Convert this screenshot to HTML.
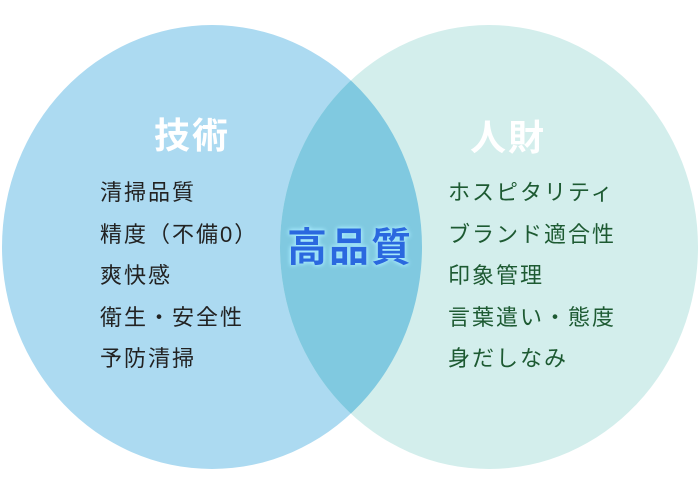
<!DOCTYPE html>
<html><head><meta charset="utf-8"><style>
html,body{margin:0;padding:0;background:#fff;}
svg{display:block;}
text{font-family:"Liberation Sans","Noto Sans CJK JP",sans-serif;}
</style></head><body>
<svg width="700" height="500" viewBox="0 0 700 500" xmlns="http://www.w3.org/2000/svg">
<defs>
<clipPath id="lc"><ellipse cx="212" cy="247" rx="210" ry="222"/></clipPath>
<filter id="glow" x="-20%" y="-40%" width="140%" height="180%">
<feGaussianBlur in="SourceAlpha" stdDeviation="2.5" result="b"/>
<feFlood flood-color="#a8ecff"/>
<feComposite in2="b" operator="in" result="g"/>
<feMerge><feMergeNode in="g"/><feMergeNode in="g"/><feMergeNode in="SourceGraphic"/></feMerge>
</filter>
</defs>
<ellipse cx="212" cy="247" rx="210" ry="222" fill="#acdaf1"/>
<ellipse cx="489" cy="247" rx="209" ry="222" fill="#d3eeec"/>
<ellipse cx="489" cy="247" rx="209" ry="222" fill="#80c9e0" clip-path="url(#lc)"/>
<text x="192" y="148" font-size="36" font-weight="bold" fill="#fff" text-anchor="middle" letter-spacing="2">技術</text>
<text x="508" y="150" font-size="36" font-weight="bold" fill="#fff" text-anchor="middle" letter-spacing="2">人財</text>
<g font-size="22" fill="#222" letter-spacing="2">
<text x="100" y="200">清掃品質</text>
<text x="100" y="242">精度（不備0）</text>
<text x="100" y="283">爽快感</text>
<text x="100" y="325">衛生・安全性</text>
<text x="100" y="366">予防清掃</text>
</g>
<g font-size="22" fill="#1d5a32" letter-spacing="2">
<text x="448" y="200">ホスピタリティ</text>
<text x="448" y="242">ブランド適合性</text>
<text x="448" y="283">印象管理</text>
<text x="448" y="325">言葉遣い・態度</text>
<text x="448" y="366">身だしなみ</text>
</g>
<text x="350" y="261" font-size="40" font-weight="bold" fill="#2a68df" text-anchor="middle" letter-spacing="2" filter="url(#glow)">高品質</text>
</svg>
</body></html>
